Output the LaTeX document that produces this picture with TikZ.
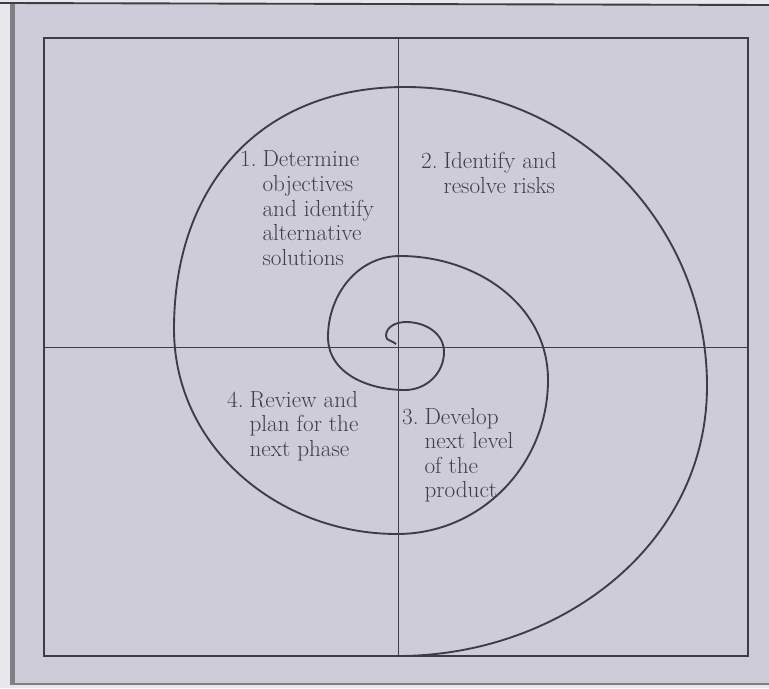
\documentclass[tikz,border=0pt]{standalone}
\usepackage{xcolor}
\definecolor{margin}{RGB}{232,231,236}
\definecolor{paper}{RGB}{207,204,217}
\definecolor{edge}{RGB}{128,127,136}
\definecolor{ink}{RGB}{62,60,70}
\definecolor{txt}{RGB}{64,62,72}
\begin{document}
\begin{tikzpicture}[x=0.03cm, y=0.03cm,
        lbl/.style={text=txt, font=\fontsize{19.8}{21}\selectfont, inner sep=0pt, anchor=base west}]
        \useasboundingbox (0,0) rectangle (769,688);
        % PAPER
        \fill[margin] (0,0) rectangle (769,688);
        \fill[paper] (15,4) rectangle (769,684);
        \draw[edge, line width=0.15cm] (12.5,4) -- (12.5,686);
        \draw[ink, line width=1.6pt] (0,685) -- (769,683);
        \draw[edge, line width=1pt] (10,4) -- (769,4);

        % QUADRANTS
        \draw[ink, line width=1.1pt] (44,32) rectangle (748,650);
        \draw[ink, line width=0.8pt] (398,650) -- (398,32);
        \draw[ink, line width=0.8pt] (44,341) -- (748,341);

        % SPIRAL
        \coordinate (s0) at (396,344);
        \coordinate (l0) at (386,352);
        \coordinate (t1) at (406,366);
        \coordinate (r1) at (444,336);
        \coordinate (b1) at (405,298);
        \coordinate (l1) at (328,351);
        \coordinate (t2) at (400,432);
        \coordinate (r2) at (548,308);
        \coordinate (b2) at (397,154);
        \coordinate (l2) at (174,359);
        \coordinate (t3) at (405,601);
        \coordinate (r3) at (707,302);
        \coordinate (b3) at (398,32);
        \draw[ink, line width=1.6pt] (s0) to[out=135, in=270] (l0)
            to[out=90, in=180] (t1) to[out=0, in=90] (r1)
            to[out=270, in=0] (b1) to[out=180, in=270] (l1)
            to[out=90, in=180] (t2) to[out=0, in=90] (r2)
            to[out=270, in=0] (b2) to[out=180, in=270] (l2)
            to[out=90, in=180, looseness=1.1] (t3) to[out=0, in=90] (r3)
            to[out=270, in=0] (b3);

        % LABELS
        \node[lbl] (q1) at (240,521) {\begin{tabular}[t]{@{}l@{\hspace{5pt}}l@{}}1. & Determine\\ & objectives\\ & and identify\\ & alternative\\ & solutions\end{tabular}};
        \node[lbl] (q2) at (421,519) {\begin{tabular}[t]{@{}l@{\hspace{5pt}}l@{}}2. & Identify and\\ & resolve risks\end{tabular}};
        \node[lbl] (q3) at (402,264) {\begin{tabular}[t]{@{}l@{\hspace{5pt}}l@{}}3. & Develop\\ & next level\\ & of the\\ & product\end{tabular}};
        \node[lbl] (q4) at (227,281) {\begin{tabular}[t]{@{}l@{\hspace{5pt}}l@{}}4. & Review and\\ & plan for the\\ & next phase\end{tabular}};
    \end{tikzpicture}
\end{document}
